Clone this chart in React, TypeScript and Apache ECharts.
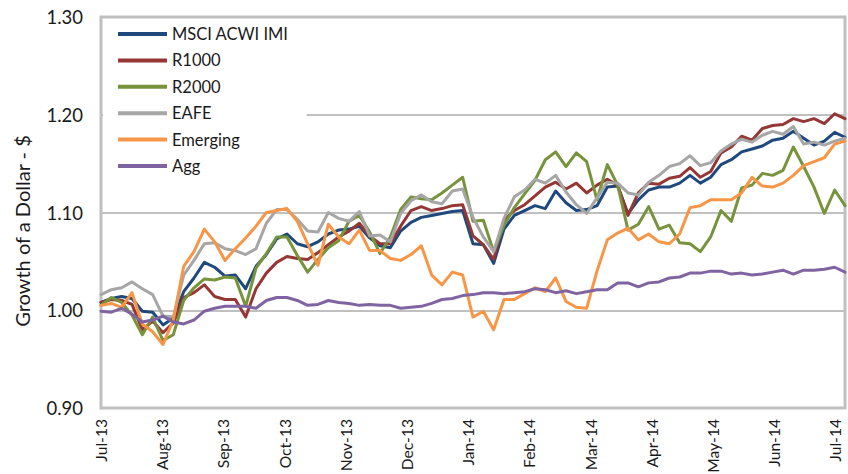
import React, { useEffect, useRef } from "react";
import * as echarts from "echarts";

// Month tick labels (x axis), one per month boundary
const monthLabels = [
  "Jul-13", "Aug-13", "Sep-13", "Oct-13", "Nov-13", "Dec-13", "Jan-14",
  "Feb-14", "Mar-14", "Apr-14", "May-14", "Jun-14", "Jul-14",
];

// Span of the sampled data, in months from Jul-13 (data runs a few days past Jul-14)
const SPAN_MONTHS = 12.157;

const seriesNames = ["MSCI ACWI IMI", "R1000", "R2000", "EAFE", "Emerging", "Agg"];

const acwi = [
  1.008, 1.012, 1.014, 1.012, 0.999, 0.998, 0.985, 0.992, 1.019, 1.033,
  1.049, 1.044, 1.035, 1.036, 1.022, 1.045, 1.057, 1.073, 1.078, 1.068,
  1.065, 1.070, 1.078, 1.082, 1.083, 1.086, 1.074, 1.066, 1.064, 1.081,
  1.090, 1.095, 1.097, 1.099, 1.101, 1.102, 1.068, 1.067, 1.048, 1.083,
  1.097, 1.102, 1.107, 1.104, 1.122, 1.110, 1.102, 1.103, 1.107, 1.126,
  1.127, 1.099, 1.113, 1.123, 1.126, 1.126, 1.130, 1.138, 1.130, 1.136,
  1.149, 1.154, 1.162, 1.165, 1.168, 1.174, 1.176, 1.183, 1.176, 1.169,
  1.173, 1.182, 1.177,
];

const r1000 = [
  1.008, 1.011, 1.010, 1.006, 0.980, 0.989, 0.977, 0.987, 1.013, 1.018,
  1.026, 1.014, 1.011, 1.011, 0.993, 1.022, 1.038, 1.049, 1.055, 1.053,
  1.052, 1.059, 1.067, 1.075, 1.081, 1.089, 1.076, 1.068, 1.068, 1.086,
  1.102, 1.106, 1.102, 1.104, 1.107, 1.108, 1.076, 1.067, 1.052, 1.092,
  1.102, 1.108, 1.117, 1.126, 1.131, 1.124, 1.130, 1.120, 1.128, 1.134,
  1.128, 1.097, 1.120, 1.130, 1.129, 1.135, 1.137, 1.146, 1.136, 1.142,
  1.161, 1.167, 1.178, 1.174, 1.186, 1.189, 1.190, 1.196, 1.193, 1.196,
  1.191, 1.201, 1.196,
];

const r2000 = [
  1.005, 1.013, 1.008, 0.995, 0.975, 0.993, 0.969, 0.975, 1.010, 1.023,
  1.032, 1.031, 1.034, 1.033, 1.004, 1.043, 1.058, 1.075, 1.075, 1.056,
  1.039, 1.052, 1.064, 1.071, 1.091, 1.097, 1.080, 1.058, 1.075, 1.103,
  1.116, 1.114, 1.113, 1.120, 1.128, 1.136, 1.091, 1.092, 1.060, 1.087,
  1.105, 1.119, 1.133, 1.154, 1.162, 1.147, 1.161, 1.152, 1.113, 1.149,
  1.128, 1.082, 1.088, 1.106, 1.083, 1.087, 1.069, 1.068, 1.060, 1.075,
  1.102, 1.091, 1.125, 1.128, 1.140, 1.138, 1.143, 1.167, 1.147, 1.126,
  1.099, 1.123, 1.107,
];

const eafe = [
  1.016, 1.021, 1.023, 1.029, 1.022, 1.016, 0.994, 0.993, 1.036, 1.051,
  1.068, 1.069, 1.063, 1.061, 1.057, 1.063, 1.089, 1.103, 1.103, 1.093,
  1.081, 1.080, 1.100, 1.094, 1.091, 1.101, 1.076, 1.077, 1.070, 1.099,
  1.112, 1.118, 1.111, 1.109, 1.122, 1.124, 1.095, 1.075, 1.060, 1.094,
  1.116, 1.123, 1.134, 1.130, 1.138, 1.121, 1.108, 1.099, 1.115, 1.131,
  1.130, 1.120, 1.118, 1.131, 1.138, 1.147, 1.150, 1.158, 1.148, 1.151,
  1.163, 1.170, 1.175, 1.172, 1.179, 1.183, 1.180, 1.188, 1.170, 1.172,
  1.169, 1.173, 1.176,
];

const emerging = [
  1.005, 1.007, 1.003, 1.018, 0.986, 0.978, 0.965, 0.990, 1.045, 1.060,
  1.083, 1.070, 1.051, 1.063, 1.074, 1.086, 1.100, 1.102, 1.104, 1.091,
  1.068, 1.046, 1.088, 1.075, 1.068, 1.082, 1.061, 1.061, 1.053, 1.051,
  1.057, 1.066, 1.036, 1.026, 1.039, 1.036, 0.993, 0.999, 0.980, 1.011,
  1.011, 1.017, 1.023, 1.019, 1.033, 1.009, 1.003, 1.002, 1.040, 1.072,
  1.079, 1.084, 1.072, 1.078, 1.070, 1.068, 1.078, 1.105, 1.107, 1.113,
  1.113, 1.113, 1.120, 1.136, 1.127, 1.126, 1.130, 1.138, 1.148, 1.152,
  1.156, 1.170, 1.173,
];

const agg = [
  0.999, 0.998, 1.002, 0.996, 0.988, 0.990, 0.994, 0.988, 0.986, 0.990,
  0.999, 1.002, 1.004, 1.004, 1.004, 1.002, 1.010, 1.013, 1.013, 1.010,
  1.005, 1.006, 1.010, 1.008, 1.007, 1.005, 1.006, 1.005, 1.005, 1.002,
  1.003, 1.004, 1.007, 1.011, 1.012, 1.015, 1.016, 1.018, 1.018, 1.017,
  1.018, 1.019, 1.022, 1.021, 1.018, 1.020, 1.017, 1.019, 1.021, 1.021,
  1.028, 1.028, 1.024, 1.028, 1.029, 1.033, 1.034, 1.038, 1.038, 1.040,
  1.040, 1.037, 1.038, 1.036, 1.037, 1.039, 1.041, 1.037, 1.041, 1.041,
  1.042, 1.044, 1.039,
];

const seriesValues = [acwi, r1000, r2000, eafe, emerging, agg];
const seriesColors = ["#1F497D", "#953735", "#77933C", "#A6A6A6", "#F79646", "#8064A2"];

const FONT = "Lato, 'Noto Sans', sans-serif";
const TEXT = "#1a1a1a";
const GRID_GRAY = "#c0c0c0";

export default function App() {
  const ref = useRef<HTMLDivElement>(null);

  useEffect(() => {
    if (!ref.current) return;
    const chart = echarts.init(ref.current, null, { renderer: "svg" });

    const series = seriesNames.map((name, k) => {
      const vals = seriesValues[k];
      const step = SPAN_MONTHS / (vals.length - 1);
      return {
        name,
        type: "line",
        showSymbol: false,
        symbol: "none",
        data: vals.map((v, i) => [i * step, v]),
        lineStyle: { color: seriesColors[k], width: 3, join: "round", cap: "round" },
        itemStyle: { color: seriesColors[k] },
        emphasis: { disabled: true },
      };
    });

    chart.setOption({
      animation: false,
      backgroundColor: "#ffffff",
      textStyle: { fontFamily: FONT },
      grid: {
        left: 101,
        right: 3,
        top: 17,
        bottom: 66,
        containLabel: false,
        outerBoundsMode: "none",
        show: true,
        borderColor: GRID_GRAY,
        borderWidth: 3,
        backgroundColor: "transparent",
      },
      legend: {
        orient: "vertical",
        left: 103,
        top: 20,
        padding: [3, 18, 8, 15],
        backgroundColor: "#ffffff",
        itemWidth: 49,
        itemHeight: 4,
        itemGap: 4.4,
        icon: "rect",
        data: seriesNames,
        textStyle: { fontFamily: FONT, fontSize: 16.5, color: TEXT, lineHeight: 22 },
        z: 10,
      },
      xAxis: {
        type: "value",
        min: 0,
        max: SPAN_MONTHS,
        interval: 1,
        axisLine: { show: false },
        axisTick: { show: false },
        splitLine: { show: false },
        axisLabel: {
          rotate: 90,
          margin: 11,
          fontFamily: FONT,
          fontSize: 15.6,
          color: TEXT,
          formatter: (v: number) => {
            const r = Math.round(v);
            return Math.abs(v - r) < 1e-6 && monthLabels[r] ? monthLabels[r] : "";
          },
        },
      },
      yAxis: {
        type: "value",
        min: 0.9,
        max: 1.3,
        interval: 0.1,
        axisLine: { show: false },
        axisTick: { show: false },
        axisLabel: {
          margin: 18,
          fontFamily: FONT,
          fontSize: 18.5,
          color: TEXT,
          formatter: (v: number) => v.toFixed(2),
        },
        splitLine: { lineStyle: { color: GRID_GRAY, width: 2 } },
      },
      graphic: [
        {
          type: "text",
          x: 22,
          y: 231,
          rotation: Math.PI / 2,
          style: {
            text: "Growth of a Dollar - $",
            fontFamily: FONT,
            fontSize: 20,
            fill: TEXT,
            align: "center",
            verticalAlign: "middle",
          },
        },
      ],
      series,
    });

    return () => chart.dispose();
  }, []);

  return (
    <div
      style={{
        position: "absolute",
        left: 0,
        top: 0,
        width: 848,
        height: 474,
        overflow: "hidden",
      }}
    >
      <div ref={ref} style={{ width: 848, height: 474 }} />
    </div>
  );
}
